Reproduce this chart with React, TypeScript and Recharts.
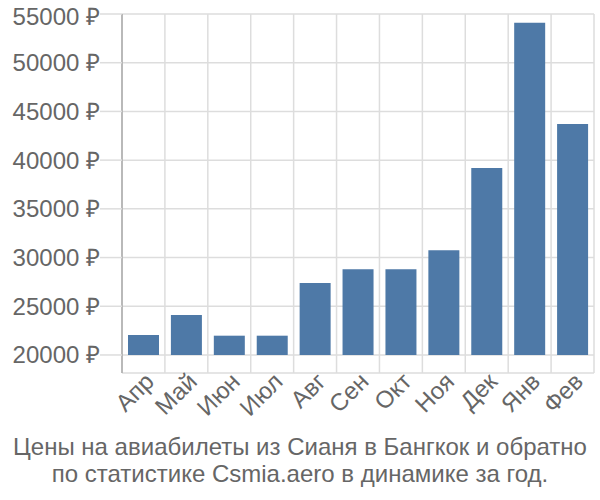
import React from 'react';
import { BarChart, Bar, XAxis, YAxis, CartesianGrid } from 'recharts';

const months = ['Апр', 'Май', 'Июн', 'Июл', 'Авг', 'Сен', 'Окт', 'Ноя', 'Дек', 'Янв', 'Фев'];
const prices = [22050, 24100, 21980, 21980, 27390, 28800, 28800, 30750, 39200, 54100, 43700];
const yTicks = [20000, 25000, 30000, 35000, 40000, 45000, 50000, 55000];
const baseValue = 20000;
const yDomain = [18150, 55000];
const titleLines = [
  'Цены на авиабилеты из Сианя в Бангкок и обратно',
  'по статистике Csmia.aero в динамике за год.',
];

const data = months.map((m, i) => ({ month: m, range: [baseValue, prices[i]] }));

const FONT = '"Liberation Sans", Arial, sans-serif';

const XTick = (props: any) => {
  const { x, y, payload } = props;
  return (
    <g transform={`translate(${x + 12},${y + 10})`}>
      <text textAnchor="end" transform="rotate(-45)" fill="#666" fontSize={24} fontFamily={FONT}>
        {payload.value}
      </text>
    </g>
  );
};

export default function App() {
  return (
    <div style={{ position: 'absolute', left: 0, top: 0, width: 600, height: 500, background: '#fff', fontFamily: FONT }}>
      <BarChart
        width={600}
        height={500}
        data={data}
        margin={{ top: 14, right: 6, left: 0, bottom: 67 }}
        style={{ fontFamily: FONT }}
      >
        <CartesianGrid
          stroke="#dddddd"
          strokeWidth={1.5}
          verticalCoordinatesGenerator={({ offset }: any) =>
            Array.from({ length: months.length + 1 }, (_, i) => offset.left + (i * offset.width) / months.length)
          }
        />
        <XAxis
          dataKey="month"
          height={60}
          axisLine={false}
          tickLine={false}
          tickSize={0}
          tickMargin={0}
          interval={0}
          tick={<XTick />}
        />
        <YAxis
          width={122}
          domain={yDomain}
          ticks={yTicks}
          allowDataOverflow
          tickSize={22}
          tickMargin={0}
          tickLine={{ stroke: '#dddddd', strokeWidth: 1.5 }}
          axisLine={{ stroke: '#aaaaaa', strokeWidth: 1.5 }}
          tick={{ fill: '#666', fontSize: 24, fontFamily: FONT }}
          tickFormatter={(v: number) => `${v} ₽`}
        />
        <Bar dataKey="range" fill="#4e79a7" barSize={31} isAnimationActive={false} />
      </BarChart>
      {titleLines.map((t, i) => (
        <div
          key={i}
          style={{
            position: 'absolute',
            left: 0,
            width: 600,
            top: 432 + i * 27,
            textAlign: 'center',
            fontSize: 24,
            lineHeight: '30px',
            color: '#666',
            whiteSpace: 'nowrap',
          }}
        >
          {t}
        </div>
      ))}
    </div>
  );
}
